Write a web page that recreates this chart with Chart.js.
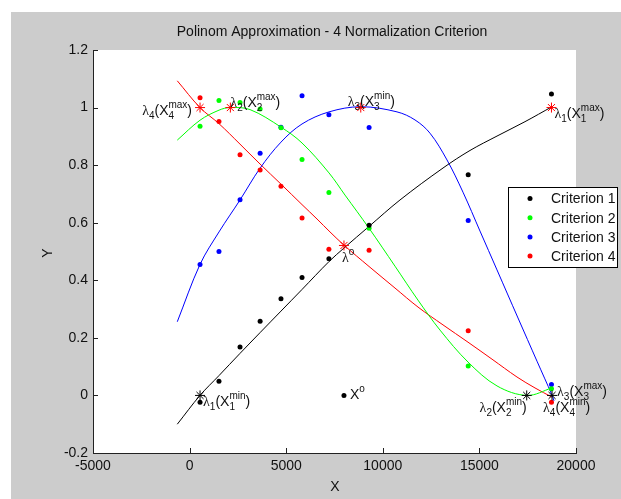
<!DOCTYPE html>
<html>
<head>
<meta charset="utf-8">
<script src="https://cdn.jsdelivr.net/npm/chart.js@4.4.1/dist/chart.umd.min.js"></script>
<style>
  body { margin: 0; background: #fff; }
  #wrap { position: absolute; left: 11px; top: 12px; width: 610px; height: 487px; background: #ccc; }
</style>
</head>
<body>
<div id="wrap"><canvas id="grafico" width="610" height="487"></canvas></div>
<script>
// ejes
const xTicks = [-5000, 0, 5000, 10000, 15000, 20000]
const xTickLabels = ['-5000', '0', '5000', '10000', '15000', '20000']
const yTicks = [-0.2, 0, 0.2, 0.4, 0.6, 0.8, 1, 1.2]
const yTickLabels = ['-0.2', '0', '0.2', '0.4', '0.6', '0.8', '1', '1.2']

const criteria = ['Criterion 1', 'Criterion 2', 'Criterion 3', 'Criterion 4']
const colors = ['#000000', '#00ff00', '#0000ff', '#ff0000']

// puntos medidos, mismos X para los 4 criterios
const pointX = [540, 1520, 2610, 3650, 4730, 5820, 7210, 9290, 14420, 18730]
const crit1 = [-0.024, 0.049, 0.168, 0.258, 0.336, 0.410, 0.475, 0.591, 0.767, 1.047]
const crit2 = [0.935, 1.025, 1.018, 0.995, 0.930, 0.820, 0.705, 0.581, 0.102, 0.023]
const crit3 = [0.455, 0.500, 0.680, 0.841, 0.932, 1.041, 0.975, 0.931, 0.608, 0.038]
const crit4 = [1.034, 0.952, 0.836, 0.783, 0.727, 0.616, 0.508, 0.504, 0.225, -0.024]

// curvas polinomiales
const curve1X = [-637, 538, 1522, 2609, 3644, 4731, 5818, 7215, 7992, 9286, 10890, 13116, 14514, 15911, 17360, 18758]
const curve1Y = [-0.100, 0.0, 0.069, 0.146, 0.218, 0.293, 0.368, 0.465, 0.512, 0.587, 0.679, 0.790, 0.851, 0.901, 0.951, 1.003]
const curve2X = [-637, 538, 1522, 2091, 3126, 4731, 5818, 7215, 8044, 9286, 10632, 11822, 12961, 14410, 15911, 17464, 18758]
const curve2Y = [0.887, 0.956, 0.991, 1.0, 0.993, 0.932, 0.877, 0.773, 0.696, 0.581, 0.449, 0.331, 0.227, 0.116, 0.033, 0.0, 0.026]
const curve3X = [-637, 538, 1522, 2609, 3644, 4731, 5818, 7215, 8872, 10735, 11667, 12443, 13323, 14151, 15031, 15911, 16998, 17981, 18758, 18862]
const curve3Y = [0.256, 0.455, 0.568, 0.679, 0.789, 0.880, 0.943, 0.985, 1.003, 0.985, 0.957, 0.911, 0.818, 0.706, 0.571, 0.436, 0.269, 0.119, 0.001, -0.019]
const curve4X = [-637, 538, 1522, 2609, 3644, 4731, 5818, 6594, 7267, 7992, 9286, 10632, 11822, 13116, 14410, 15652, 16946, 17878, 18758]
const curve4Y = [1.093, 1.0, 0.944, 0.873, 0.804, 0.734, 0.663, 0.613, 0.568, 0.522, 0.448, 0.373, 0.307, 0.245, 0.185, 0.126, 0.064, 0.026, -0.006]

// puntos especiales
const redStarX = [540, 2110, 8860, 18730, 7990]
const redStarY = [1, 1, 1, 1, 0.521]
const blackStarX = [540, 17450, 18760]
const blackStarY = [0, 0, 0]
const originX = [7990]
const originY = [0]

// textos tipo tex
const labelTexts = ['λ_4(X_4^{max})', 'λ_2(X_2^{max})', 'λ_3(X_3^{min})', 'λ_1(X_1^{max})', 'λ_1(X_1^{min})',
  'λ^o', 'X^o', 'λ_2(X_2^{min})', 'λ_3(X_3^{max})', 'λ_4(X_4^{min})']
const labelX = [540, 2110, 8860, 18730, 540, 7990, 7990, 17450, 18760, 18760]
const labelY = [1, 1, 1, 1, 0, 0.521, 0, 0, 0, 0]
// desplazamiento en px y alineacion
const labelOffset = [[-8, 7, 'right'], [0, -1, 'left'], [-13, -2, 'left'], [3, 10, 'left'], [3, 11, 'left'],
  [-2, 17, 'left'], [6, 4, 'left'], [0, 17, 'right'], [5, 1, 'left'], [-9, 17, 'left']]

const FONT = '"Liberation Sans", Arial, sans-serif'
const TXT = '#111'

const toXY = (xs, ys) => xs.map((x, i) => ({ x: x, y: ys[i] }))

const parseTex = (s) => {
  const out = []
  let i = 0
  const grab = () => {
    if (s[i] === '{') { const j = s.indexOf('}', i); const t = s.slice(i + 1, j); i = j + 1; return t }
    return s[i++]
  }
  while (i < s.length) {
    const c = s[i]
    if (c === '_' || c === '^') {
      i++
      const t = grab()
      const last = out[out.length - 1]
      if (last && last.script && !last[c]) last[c] = t
      else out.push({ script: true, [c]: t })
    } else { out.push({ text: c }); i++ }
  }
  return out
}

const drawTex = (ctx, str, x, y, align) => {
  const parts = parseTex(str)
  const big = '14px ' + FONT
  const small = '10px ' + FONT
  const fontOf = (t) => t === 'λ' ? '14px "Liberation Serif", serif' : big
  let w = 0
  parts.forEach(p => {
    if (p.script) {
      ctx.font = small
      p.w = Math.max(ctx.measureText(p._ || '').width, ctx.measureText(p['^'] || '').width)
    } else { ctx.font = fontOf(p.text); p.w = ctx.measureText(p.text).width }
    w += p.w
  })
  let cx = align === 'right' ? x - w : x
  ctx.textAlign = 'left'
  ctx.textBaseline = 'alphabetic'
  parts.forEach(p => {
    if (p.script) {
      ctx.font = small
      if (p._) ctx.fillText(p._, cx, y + 4)
      if (p['^']) ctx.fillText(p['^'], cx, y - 7)
    } else { ctx.font = fontOf(p.text); ctx.fillText(p.text, cx, y) }
    cx += p.w
  })
}

// fondo gris + area blanca
const bgPlugin = {
  id: 'bg',
  beforeDraw: (chart) => {
    const { ctx, chartArea: a } = chart
    ctx.save()
    ctx.fillStyle = '#cccccc'
    ctx.fillRect(0, 0, chart.width, chart.height)
    ctx.fillStyle = '#ffffff'
    ctx.fillRect(a.left, a.top, a.right - a.left, a.bottom - a.top)
    ctx.restore()
  }
}

// ticks hacia adentro, titulos, leyenda y textos
const extrasPlugin = {
  id: 'extras',
  afterDraw: (chart) => {
    const { ctx, chartArea: a, scales } = chart
    ctx.save()
    ctx.strokeStyle = '#222'
    ctx.lineWidth = 1
    ctx.beginPath()
    xTicks.forEach(v => {
      const px = Math.round(scales.x.getPixelForValue(v)) + 0.5
      ctx.moveTo(px, a.bottom); ctx.lineTo(px, a.bottom - 5)
    })
    yTicks.forEach(v => {
      const py = Math.round(scales.y.getPixelForValue(v)) + 0.5
      ctx.moveTo(a.left, py); ctx.lineTo(a.left + 5, py)
    })
    ctx.stroke()

    ctx.fillStyle = TXT
    ctx.font = '14px ' + FONT
    ctx.textAlign = 'center'
    ctx.textBaseline = 'middle'
    ctx.fillText('Polinom Approximation - 4 Normalization Criterion', 321, 20)
    ctx.fillText('X', 324, 475)
    ctx.save()
    ctx.translate(37, 241)
    ctx.rotate(-Math.PI / 2)
    ctx.fillText('Y', 0, 0)
    ctx.restore()

    labelTexts.forEach((t, i) => {
      const px = scales.x.getPixelForValue(labelX[i]) + labelOffset[i][0]
      const py = scales.y.getPixelForValue(labelY[i]) + labelOffset[i][1]
      drawTex(ctx, t, px, py, labelOffset[i][2])
    })

    // leyenda
    ctx.fillStyle = '#fff'
    ctx.fillRect(497, 175, 109, 80)
    ctx.strokeStyle = '#000'
    ctx.strokeRect(497.5, 175.5, 109, 80)
    criteria.forEach((c, i) => {
      const y = 186.5 + i * 19.2
      ctx.fillStyle = colors[i]
      ctx.beginPath(); ctx.arc(519, y, 2.5, 0, Math.PI * 2); ctx.fill()
      ctx.fillStyle = TXT
      ctx.font = '14px ' + FONT
      ctx.textAlign = 'left'
      ctx.textBaseline = 'middle'
      ctx.fillText(c, 540, y + 1)
    })
    ctx.restore()
  }
}

const curves = [[curve1X, curve1Y], [curve2X, curve2Y], [curve3X, curve3Y], [curve4X, curve4Y]]
const crits = [crit1, crit2, crit3, crit4]

const datasets = []
curves.forEach((c, i) => {
  datasets.push({
    label: criteria[i] + ' fit', data: toXY(c[0], c[1]), showLine: true, pointRadius: 0,
    borderColor: colors[i], borderWidth: 1, tension: 0.35, order: 3
  })
})
crits.forEach((c, i) => {
  datasets.push({
    label: criteria[i], data: toXY(pointX, c), showLine: false, pointRadius: 2.5,
    backgroundColor: colors[i], borderWidth: 0, order: 2
  })
})
datasets.push({ label: 'max', data: toXY(redStarX, redStarY), pointStyle: 'star', pointRadius: 5,
  borderColor: '#ff0000', borderWidth: 1, order: 1 })
datasets.push({ label: 'min', data: toXY(blackStarX, blackStarY), pointStyle: 'star', pointRadius: 5,
  borderColor: '#000000', borderWidth: 1, order: 1 })
datasets.push({ label: 'X0', data: toXY(originX, originY), pointRadius: 2.5,
  backgroundColor: '#000000', borderWidth: 0, order: 1 })

const tickFont = { family: FONT, size: 14 }

const chartjs = new Chart(document.getElementById('grafico'), {
  type: 'scatter',
  data: { datasets: datasets },
  options: {
    responsive: false,
    animation: false,
    layout: { padding: { top: 38, right: 45, bottom: 0, left: 0 } },
    plugins: { legend: { display: false }, tooltip: { enabled: false } },
    scales: {
      x: {
        type: 'linear', min: -5000, max: 20000,
        afterBuildTicks: (s) => { s.ticks = xTicks.map(v => ({ value: v })) },
        afterFit: (s) => { s.height = 46 },
        ticks: { callback: (v, i) => xTickLabels[i], font: tickFont, color: TXT, padding: 5, maxRotation: 0, autoSkip: false },
        grid: { drawOnChartArea: false, drawTicks: false },
        border: { color: '#222', width: 1 }
      },
      y: {
        type: 'linear', min: -0.2, max: 1.2,
        afterBuildTicks: (s) => { s.ticks = yTicks.map(v => ({ value: v })) },
        afterFit: (s) => { s.width = 82 },
        ticks: { callback: (v, i) => yTickLabels[i], font: tickFont, color: TXT, padding: 5, autoSkip: false },
        grid: { drawOnChartArea: false, drawTicks: false },
        border: { color: '#222', width: 1 }
      }
    }
  },
  plugins: [bgPlugin, extrasPlugin]
})
</script>
</body>
</html>
